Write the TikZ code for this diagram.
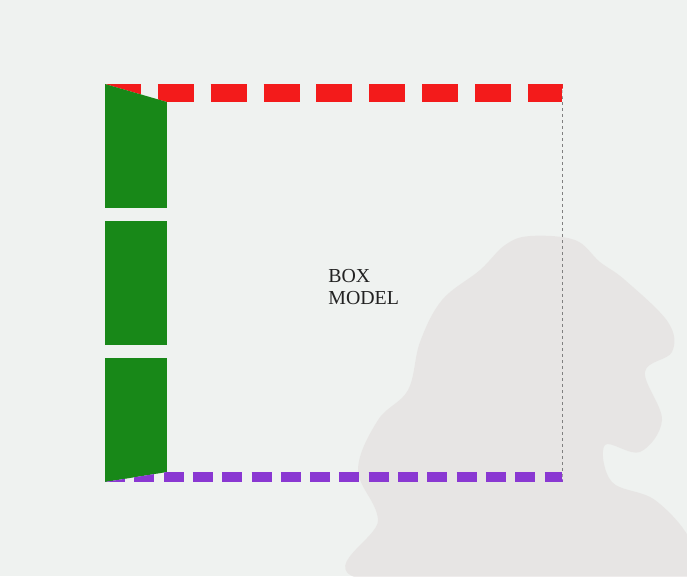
\documentclass[tikz,border=0pt]{standalone}
\usepackage{fontspec}
\setmainfont{Liberation Serif}
\definecolor{bgcol}{RGB}{239,242,240}
\definecolor{palmcol}{RGB}{224,218,218}
\definecolor{topred}{RGB}{243,27,27}
\definecolor{leftgreen}{RGB}{24,136,24}
\definecolor{botpurple}{RGB}{138,56,210}
\definecolor{rightgray}{RGB}{128,128,128}
\definecolor{textcol}{RGB}{34,34,34}
\begin{document}
\begin{tikzpicture}[x=0.02cm, y=-0.02cm, line cap=butt,
    palm/.style={fill=palmcol, draw=none},
    boxlabel/.style={font=\fontsize{11.3pt}{12.6pt}\selectfont, text=textcol, align=left, inner sep=0pt, anchor=north west}]
    \def\Lx{105}   % outer left
    \def\Rx{563}   % outer right
    \def\Ty{84}    % outer top
    \def\By{482}   % outer bottom
    \def\Lw{62}    % left width
    \def\Tw{18}    % top width
    \def\Bw{10}    % bottom width
    \def\Rw{1}     % right width
    \pgfmathsetmacro{\Ix}{\Lx+\Lw}
    \pgfmathsetmacro{\Jx}{\Rx-\Rw}
    \pgfmathsetmacro{\Iy}{\Ty+\Tw}
    \pgfmathsetmacro{\Jy}{\By-\Bw}
    \useasboundingbox (0,0) rectangle (687,576);
    \fill[bgcol] (0,0) rectangle (687,576);
    % faded palm in the background
    \begin{scope}[transparency group, opacity=0.5]
        \clip (0,0) rectangle (687,576);
        \fill[palm] plot[smooth cycle, tension=0.6] coordinates {(530,236) (575,240) (600,262) (625,280) (668,322) (672,352) (645,372) (662,420) (640,452) (605,445) (612,482) (655,500) (690,540) (690,580) (365,580) (378,520) (358,470) (378,420) (408,390) (420,342) (442,300) (480,270) (505,245)};
    \end{scope}
    % top border
    \begin{scope}
        \clip (\Lx,\Ty) -- (\Rx,\Ty) -- (\Jx,\Iy) -- (\Ix,\Iy) -- cycle;
        \draw[topred, line width=\Tw*0.02cm, dash pattern=on 36*0.02cm off 16.86*0.02cm] (\Lx,\Ty+\Tw/2) -- (\Rx,\Ty+\Tw/2);
    \end{scope}
    % left border
    \begin{scope}
        \clip (\Lx,\Ty) -- (\Ix,\Iy) -- (\Ix,\Jy) -- (\Lx,\By) -- cycle;
        \draw[leftgreen, line width=\Lw*0.02cm, dash pattern=on 124*0.02cm off 13*0.02cm] (\Lx+\Lw/2,\Ty) -- (\Lx+\Lw/2,\By);
    \end{scope}
    % bottom border
    \begin{scope}
        \clip (\Lx,\By) -- (\Ix,\Jy) -- (\Jx,\Jy) -- (\Rx,\By) -- cycle;
        \draw[botpurple, line width=\Bw*0.02cm, dash pattern=on 20*0.02cm off 9.3*0.02cm] (\Lx,\By-\Bw/2) -- (\Rx,\By-\Bw/2);
    \end{scope}
    % right border
    \begin{scope}
        \clip (\Rx,\Ty) -- (\Rx,\By) -- (\Jx,\Jy) -- (\Jx,\Iy) -- cycle;
        \draw[rightgray, line width=1.2*0.02cm, dash pattern=on 3*0.02cm off 3*0.02cm] (\Rx-\Rw/2,\Ty) -- (\Rx-\Rw/2,\By);
    \end{scope}
    \node[boxlabel] (boxtext) at (328,268.5) {BOX\\MODEL};
\end{tikzpicture}
\end{document}
